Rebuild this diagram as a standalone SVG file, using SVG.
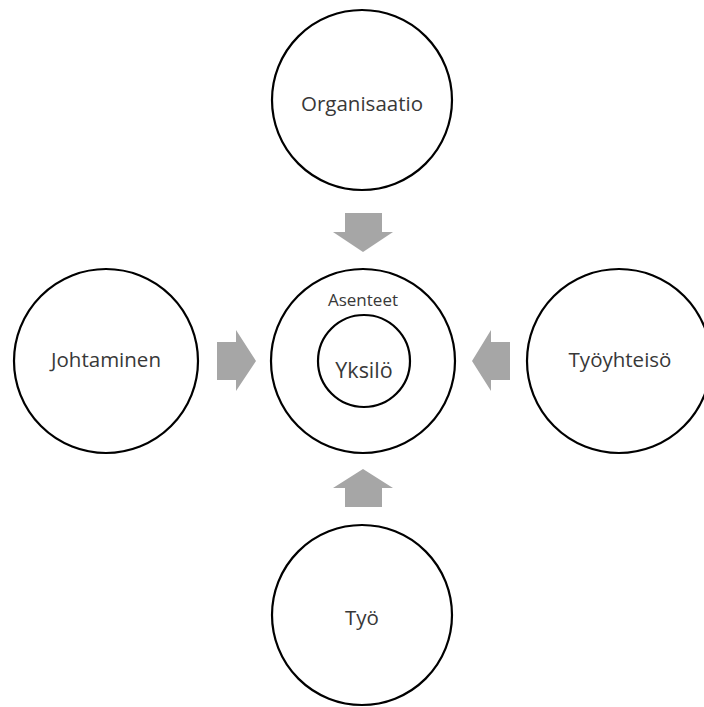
<svg xmlns="http://www.w3.org/2000/svg" width="704" height="707" viewBox="0 0 704 707">
<style>
.c{fill:#fff;stroke:#000;stroke-width:2.2}
.t{font-family:"Open Sans","Noto Sans",sans-serif;fill:#383838;text-anchor:middle}
.a{fill:#a6a6a6}
</style>
<rect width="704" height="707" fill="#fff"/>
<g id="connectors">
<polygon class="a" points="345,213 382,213 382,232 393,232 363,252 333,232 345,232"/>
<polygon class="a" points="217,342 236,342 236,330 256,361 236,391 236,380 217,380"/>
<polygon class="a" points="510,342 491,342 491,330 472,361 491,391 491,380 510,380"/>
<polygon class="a" points="345,507 382,507 382,488 393,488 363,469 333,488 345,488"/>
</g>
<g id="organisaatio">
<circle class="c" cx="362" cy="100" r="90"/>
<text class="t" x="362" y="111" font-size="20.5">Organisaatio</text>
</g>
<g id="asenteet">
<circle class="c" cx="363" cy="361" r="92"/>
<text class="t" x="363" y="306" font-size="17">Asenteet</text>
</g>
<g id="yksilo">
<circle class="c" cx="364" cy="361" r="46"/>
<text class="t" x="364" y="378" font-size="21.5">Yksilö</text>
</g>
<g id="johtaminen">
<circle class="c" cx="106" cy="361" r="92"/>
<text class="t" x="106" y="367" font-size="20.5">Johtaminen</text>
</g>
<g id="tyoyhteiso">
<circle class="c" cx="619" cy="361" r="92"/>
<text class="t" x="620" y="367" font-size="20.5">Työyhteisö</text>
</g>
<g id="tyo">
<circle class="c" cx="362" cy="615" r="90"/>
<text class="t" x="362" y="625" font-size="20.5">Työ</text>
</g>
</svg>
